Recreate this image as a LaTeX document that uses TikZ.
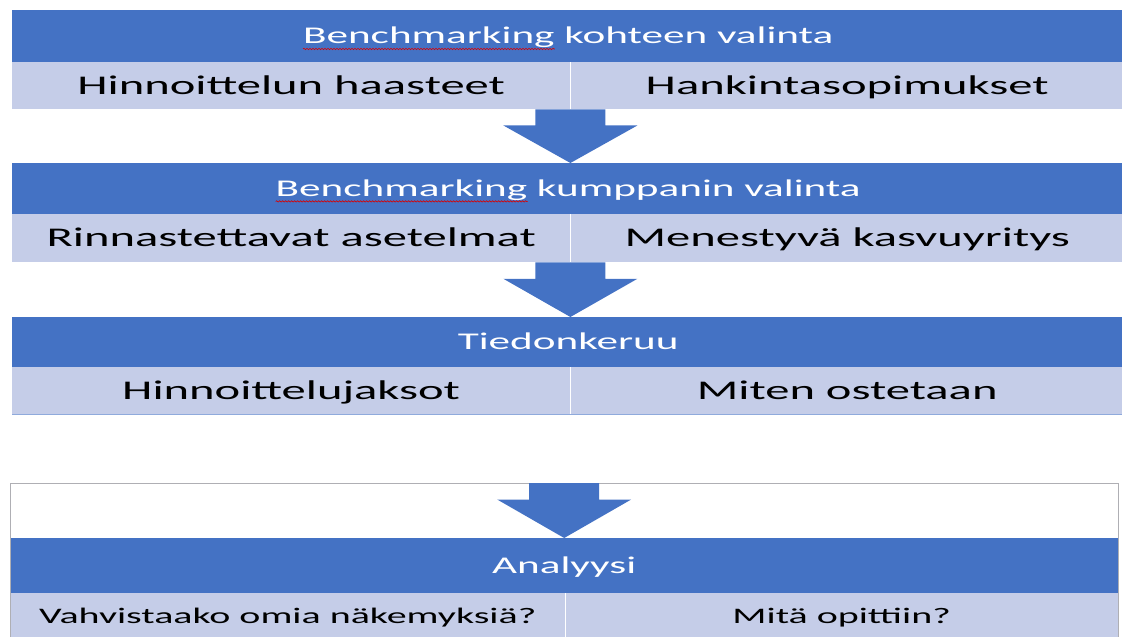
\documentclass[tikz,border=0pt]{standalone}
\usepackage{fontspec}
\setmainfont{Carlito}[FakeStretch=1.8]
\usetikzlibrary{calc,decorations.pathmorphing}

\definecolor{hblue}{RGB}{68,114,196}
\definecolor{rowblue}{RGB}{197,205,232}
\definecolor{edgeblue}{RGB}{143,170,220}
\definecolor{framegray}{RGB}{175,175,180}

\newcommand\blockarrow[2]{%
  \fill[hblue] let \p1=(#1), \p2=(#2), \n1={0.3*(\y1-\y2)} in
    ({\x1-35pt},{\y1}) -- ({\x1+35pt},{\y1}) -- ({\x1+35pt},{\y1-\n1}) -- ({\x1+67pt},{\y1-\n1})
    -- (\x2,\y2) -- ({\x1-67pt},{\y1-\n1}) -- ({\x1-35pt},{\y1-\n1}) -- cycle;}

\begin{document}
\begin{tikzpicture}[x=1pt, y=-1pt,
    head/.style={fill=hblue, text=white, anchor=north west, inner sep=0,
      font=\fontsize{24}{28}\selectfont, text height=15.5pt, text depth=0pt},
    cell/.style={fill=rowblue, text=black, anchor=north west, inner sep=0,
      font=\fontsize{27}{31}\selectfont, text height=17.2pt, text depth=0pt},
    lowcell/.style={cell, font=\fontsize{22.2}{26}\selectfont, text height=14.2pt},
    spellword/.style={anchor=base west, inner sep=0, font=\fontsize{24}{28}\selectfont},
    spellmark/.style={red!85!black, line width=0.6pt, decorate,
      decoration={snake, amplitude=0.7pt, segment length=3pt}}]
    \useasboundingbox (0,0) rectangle (1122,637);
    \clip (0,0) rectangle (1122,637);

    \node [head, minimum width=1112pt, minimum height=52pt] (h1) at (12,10) {Benchmarking kohteen valinta};
    \node [spellword] (w1) at (h1.text) {\phantom{Benchmarking}};
    \draw [spellmark] ([yshift=-5pt]w1.base west) -- ([yshift=-5pt]w1.base east);
    \node [cell, minimum width=558pt, minimum height=47pt] (r1l) at (12,62) {Hinnoittelun haasteet};
    \node [cell, minimum width=554pt, minimum height=47pt] (r1r) at (570,62) {Hankintasopimukset};
    \draw [white] (r1l.north east) -- (r1l.south east);

    \node [head, minimum width=1112pt, minimum height=51pt] (h2) at (12,163) {Benchmarking kumppanin valinta};
    \node [spellword] (w2) at (h2.text) {\phantom{Benchmarking}};
    \draw [spellmark] ([yshift=-5pt]w2.base west) -- ([yshift=-5pt]w2.base east);
    \node [cell, minimum width=558pt, minimum height=48pt] (r2l) at (12,214) {Rinnastettavat asetelmat};
    \node [cell, minimum width=554pt, minimum height=48pt] (r2r) at (570,214) {Menestyvä kasvuyritys};
    \draw [white] (r2l.north east) -- (r2l.south east);

    \node [head, minimum width=1112pt, minimum height=50pt] (h3) at (12,317) {Tiedonkeruu};
    \node [cell, minimum width=558pt, minimum height=47pt] (r3l) at (12,367) {Hinnoittelujaksot};
    \node [cell, minimum width=554pt, minimum height=47pt] (r3r) at (570,367) {Miten ostetaan};
    \draw [white] (r3l.north east) -- (r3l.south east);
    \draw [edgeblue, line width=1.2pt] (r3l.south west) -- (r3r.south east);

    \node [draw=framegray, fill=white, anchor=north west, minimum width=1108pt, minimum height=162pt, inner sep=0] (frame) at (10,483) {};
    \node [head, minimum width=1108pt, minimum height=55pt] (h4) at (10,538) {Analyysi};
    \node [lowcell, minimum width=555pt, minimum height=47pt] (r4l) at (10,593) {Vahvistaako omia näkemyksiä?};
    \node [lowcell, minimum width=553pt, minimum height=47pt] (r4r) at (565,593) {Mitä opittiin?};
    \draw [white] (r4l.north east) -- (r4l.south east);
    \draw [framegray] (frame.north west) -- (frame.south west) (frame.north east) -- (frame.south east);

    \blockarrow{r1l.south east}{r1l.south east |- h2.north}
    \blockarrow{r2l.south east}{r2l.south east |- h3.north}
    \blockarrow{frame.north}{frame.north |- h4.north}
\end{tikzpicture}
\end{document}
